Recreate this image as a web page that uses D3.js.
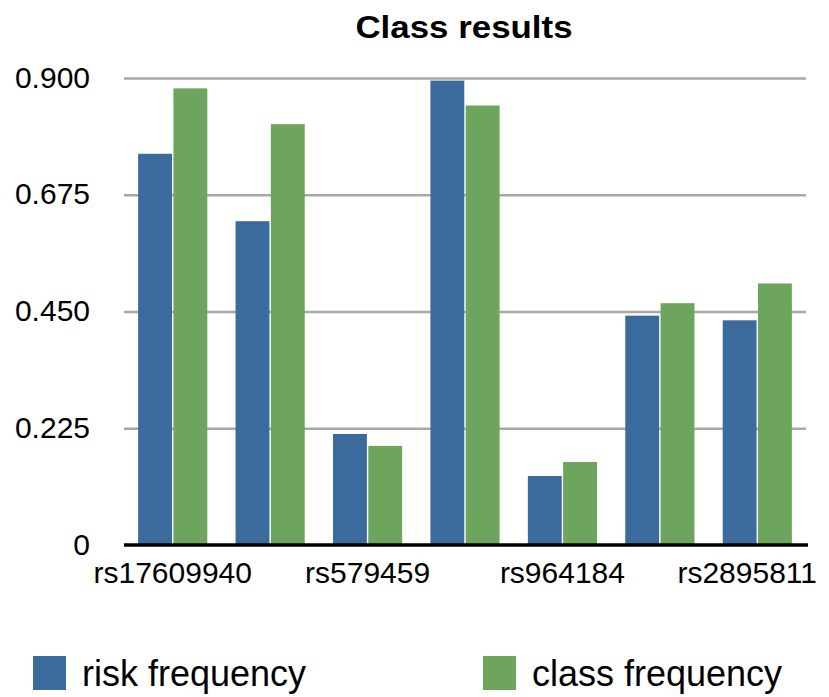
<!DOCTYPE html>
<html>
<head>
<meta charset="utf-8">
<script src="https://cdn.jsdelivr.net/npm/d3@7/dist/d3.min.js"></script>
<style>
  html, body { margin: 0; padding: 0; background: #ffffff; }
  svg { display: block; }
  text { font-family: "Liberation Sans", Arial, Helvetica, sans-serif; fill: #000; }
</style>
</head>
<body>
<svg id="chart" width="829" height="697"></svg>
<script>
// SNP groups (only every other name is printed under the axis)
const tickLabels = ["rs17609940", "", "rs579459", "", "rs964184", "", "rs2895811"];
const seriesNames = ["risk frequency", "class frequency"];
const riskFrequency  = [0.754, 0.624, 0.214, 0.895, 0.133, 0.442, 0.433];
const classFrequency = [0.880, 0.811, 0.191, 0.847, 0.160, 0.466, 0.504];
const yTicks = [0, 0.225, 0.45, 0.675, 0.9];
const yTickText = ["0", "0.225", "0.450", "0.675", "0.900"];
const colors = ["#3b6a9d", "#6ca55b"];

const series = [riskFrequency, classFrequency];
const svg = d3.select("#chart");
const plotLeft = 124, plotRight = 806, plotTop = 78, plotBottom = 545;
const labelLimit = 817; // category labels are kept inside this right edge

const x0 = d3.scaleBand()
  .domain(d3.range(tickLabels.length))
  .range([plotLeft, plotRight])
  .paddingInner(0.29)
  .paddingOuter(0.145);
const x1 = d3.scaleBand()
  .domain(d3.range(series.length))
  .range([0, x0.bandwidth()])
  .paddingInner(0.04);
const y = d3.scaleLinear().domain([0, 0.9]).range([plotBottom, plotTop]);

// title
svg.append("text")
  .attr("transform", `translate(464,38) scale(1.09,1)`)
  .attr("text-anchor", "middle")
  .style("font-size", "32px")
  .style("font-weight", "bold")
  .text("Class results");

// horizontal gridlines
const yAxis = d3.axisLeft(y)
  .tickValues(yTicks)
  .tickSize(-(plotRight - plotLeft))
  .tickPadding(0)
  .tickFormat(() => "");
const gy = svg.append("g").attr("transform", `translate(${plotLeft},0)`).call(yAxis);
gy.select(".domain").remove();
gy.selectAll(".tick line").attr("stroke", "#a8a8a8").attr("stroke-width", 2.7);
gy.selectAll(".tick").filter(d => d === 0).select("line").remove();
gy.selectAll(".tick").append("text")
  .attr("x", -34)
  .attr("text-anchor", "end")
  .attr("dy", "0.3em")
  .style("font-size", "30px")
  .text(d => yTickText[yTicks.indexOf(d)]);

// bars
const groups = svg.append("g").selectAll("g")
  .data(d3.range(tickLabels.length))
  .join("g")
  .attr("transform", i => `translate(${x0(i)},0)`);
groups.selectAll("rect")
  .data(i => series.map((s, k) => ({ k, v: s[i] })))
  .join("rect")
  .attr("x", d => x1(d.k))
  .attr("width", x1.bandwidth())
  .attr("y", d => y(d.v))
  .attr("height", d => y(0) - y(d.v))
  .attr("fill", d => colors[d.k]);

// category axis
const xAxis = d3.axisBottom(x0).tickSize(0).tickPadding(0).tickFormat(i => tickLabels[i]);
const gx = svg.append("g").attr("transform", `translate(0,${plotBottom})`).call(xAxis);
gx.select(".domain").remove();
gx.append("line")
  .attr("x1", plotLeft).attr("x2", plotRight + 2)
  .attr("y1", 0).attr("y2", 0)
  .attr("stroke", "#000").attr("stroke-width", 3.5);
gx.selectAll(".tick text")
  .attr("fill", null)
  .attr("dy", null)
  .attr("y", 38)
  .style("font-size", "30px")
  .each(function (i) {
    // nudge a label left when it would run past the right edge
    const w = this.getComputedTextLength();
    const overflow = x0(i) + x0.bandwidth() / 2 + w / 2 - labelLimit;
    if (overflow > 0) d3.select(this).attr("x", -overflow);
  });

// legend
const legend = svg.append("g");
const legendX = [33, 483];
seriesNames.forEach((name, k) => {
  legend.append("rect")
    .attr("x", legendX[k]).attr("y", 656)
    .attr("width", 33).attr("height", 34)
    .attr("fill", colors[k]);
  legend.append("text")
    .attr("x", legendX[k] + 49).attr("y", 686)
    .style("font-size", "36px")
    .text(name);
});
</script>
</body>
</html>
